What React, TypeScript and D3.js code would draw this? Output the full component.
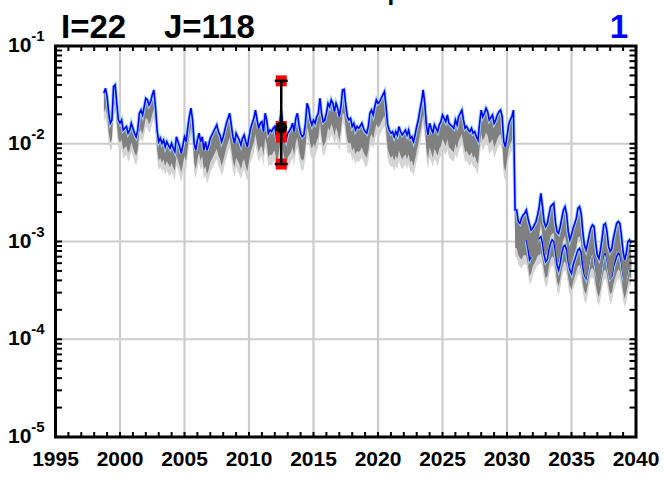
import React from "react";
import * as d3 from "d3";

// time grid of the series
const START_YEAR = 1998.75;
const STEP = 0.125;
const B_START = 255; // index where the second (lower) run begins

// main run (blue), 1998.75 .. 2039.6
const blueA = [
  .0328, .0369, .0303, .0205, .0162, .0175, .0384, .0400, .0259, .0175,
  .0162, .0175, .0138, .0144, .0150, .0128, .0138, .0162, .0144, .0128,
  .0118, .0138, .0205, .0221, .0197, .0239, .0292, .0281, .0249, .0269,
  .0316, .0355, .0239, .0138, .0105, .0114, .0101, .0109, .0093, .0105,
  .0097, .0090, .0101, .0090, .0083, .0118, .0105, .0093, .0080, .0097,
  .0118, .0105, .0144, .0189, .0231, .0175, .0101, .0086, .0109, .0128,
  .0105, .0118, .0086,
  .0105, .0086, .0097, .0114, .0123, .0133, .0144, .0156, .0133, .0123,
  .0105, .0118, .0138, .0162, .0182, .0205, .0156, .0118, .0101, .0128,
  .0118, .0109, .0097, .0114, .0123, .0105, .0093, .0118, .0144, .0162,
  .0182, .0221, .0175, .0144, .0162, .0168, .0133, .0205, .0175, .0128,
  .0138, .0133, .0144, .0150, .0118, .0128, .0162, .0221, .0150, .0123,
  .0109, .0128, .0135, .0144, .0162, .0133, .0182, .0205, .0156, .0128,
  .0118, .0123, .0162, .0259, .0231, .0175, .0156, .0175, .0162, .0189, .0205,
  .0292, .0205, .0168, .0175, .0205, .0259, .0239, .0281, .0259, .0213,
  .0259, .0231, .0189, .0239, .0355, .0360, .0249, .0189, .0175, .0182,
  .0150, .0162, .0138, .0150, .0144, .0152, .0162, .0144, .0133, .0128,
  .0150, .0205, .0221, .0197, .0239, .0281, .0259, .0269, .0292, .0316,
  .0341, .0239, .0156, .0138, .0128, .0133, .0118, .0133, .0123, .0150,
  .0133, .0123, .0130, .0138, .0123, .0138, .0114, .0118, .0105, .0123,
  .0150, .0175, .0221, .0269, .0355, .0259, .0156, .0123,
  .0162, .0144, .0128, .0156, .0144, .0133, .0156, .0168, .0197, .0182,
  .0168, .0197, .0162, .0156, .0150, .0144, .0175, .0156, .0189, .0205,
  .0221, .0175, .0144, .0150, .0138, .0133, .0144, .0128, .0133, .0118,
  .0109, .0162, .0221, .0189, .0205, .0231, .0213, .0175, .0185, .0197,
  .0162, .0175, .0197, .0213, .0221, .0189, .0105, .0093, .0118, .0156,
  .0175, .0189, .0221,
  2.10e-3, 2.10e-3, 1.60e-3, 1.53e-3, 1.73e-3, 1.87e-3, 1.94e-3, 2.10e-3, 1.73e-3, 1.48e-3,
  1.31e-3, 1.37e-3, 1.48e-3, 1.60e-3, 1.87e-3, 2.27e-3, 3.11e-3, 2.27e-3, 1.60e-3, 1.42e-3,
  1.53e-3, 1.87e-3, 2.27e-3, 2.37e-3, 2.46e-3, 1.60e-3, 1.26e-3, 1.21e-3, 1.42e-3, 1.73e-3,
  2.10e-3, 2.27e-3, 1.87e-3, 1.26e-3, 1.04e-3, 1.17e-3, 1.37e-3, 1.53e-3, 1.73e-3, 2.18e-3,
  2.27e-3, 1.94e-3, 1.26e-3, 0.92e-3, 0.82e-3, 0.96e-3, 1.17e-3, 1.37e-3, 1.48e-3, 1.42e-3,
  0.96e-3, 0.73e-3, 0.67e-3, 0.82e-3, 1.08e-3, 1.48e-3, 1.53e-3, 1.26e-3, 0.885e-3, 0.79e-3,
  0.85e-3, 1.08e-3, 1.29e-3, 1.53e-3, 1.60e-3, 1.53e-3, 1.12e-3, 0.79e-3, 0.65e-3, 0.76e-3,
  1.00e-3, 1.04e-3, 0.96e-3,
];

// lower edge of the dark grey spread under the main run
const grayLowA = [
  .0208, .0234, .0192, .0130, .0103, .0111, .0243, .0253, .0164, .0111,
  .0103, .0111, .0087, .0092, .0095, .0081, .0087, .0103, .0092, .0081,
  .0075, .0087, .0130, .0140, .0125, .0151, .0185, .0178, .0158, .0171,
  .0201, .0225, .0151, .0087, .0067, .0072, .0064, .0069, .0059, .0067,
  .0062, .0057, .0064, .0057, .0053, .0075, .0067, .0059, .0051, .0062,
  .0075, .0067, .0092, .0120, .0146, .0111, .0064, .0055, .0069, .0081,
  .0067, .0075, .0055,
  .0059, .0049, .0055, .0065, .0070, .0076, .0082, .0089, .0076, .0070,
  .0059, .0067, .0078, .0092, .0103, .0116, .0089, .0067, .0058, .0072,
  .0067, .0062, .0055, .0065, .0070, .0059, .0052, .0067, .0082, .0092,
  .0103, .0126, .0100, .0082, .0092, .0095, .0076, .0116, .0100, .0072,
  .0078, .0076, .0082, .0085, .0067, .0072, .0092, .0126, .0085, .0070,
  .0062, .0072, .0077, .0082, .0092, .0076, .0103, .0116, .0089, .0072,
  .0067, .0070, .0092, .0147, .0131, .0100, .0089, .0100, .0092, .0108, .0116,
  .0166, .0116, .0095, .0100, .0116, .0147, .0136, .0159, .0147, .0121,
  .0147, .0131, .0108, .0136, .0201, .0205, .0141, .0108, .0100, .0103,
  .0085, .0092, .0078, .0085, .0082, .0086, .0092, .0082, .0076, .0072,
  .0085, .0116, .0126, .0112, .0136, .0159, .0147, .0153, .0166, .0180,
  .0194, .0136, .0089, .0078, .0072, .0076, .0067, .0076, .0070, .0085,
  .0076, .0070, .0074, .0078, .0070, .0078, .0065, .0067, .0059, .0070,
  .0085, .0100, .0126, .0153, .0201, .0147, .0089, .0070,
  .0092, .0082, .0072, .0089, .0082, .0076, .0089, .0095, .0112, .0103,
  .0095, .0112, .0092, .0089, .0085, .0082, .0100, .0089, .0108, .0116,
  .0126, .0100, .0082, .0085, .0078, .0076, .0082, .0072, .0076, .0067,
  .0062, .0092, .0126, .0108, .0116, .0131, .0121, .0100, .0105, .0112,
  .0092, .0100, .0112, .0121, .0126, .0108, .0059, .0052, .0067, .0089,
  .0100, .0108, .0126,
  1.05e-3, 1.05e-3, 0.80e-3, 0.77e-3, 0.87e-3, 0.94e-3, 0.97e-3, 1.05e-3, 0.87e-3, 0.74e-3,
  0.66e-3, 0.69e-3, 0.74e-3, 0.80e-3, 0.94e-3, 1.14e-3, 1.56e-3, 1.14e-3, 0.80e-3, 0.71e-3,
  0.77e-3, 0.94e-3, 1.14e-3, 1.19e-3, 1.23e-3, 0.80e-3, 0.63e-3, 0.61e-3, 0.71e-3, 0.87e-3,
  1.05e-3, 1.14e-3, 0.94e-3, 0.63e-3, 0.52e-3, 0.59e-3, 0.69e-3, 0.77e-3, 0.87e-3, 1.09e-3,
  1.14e-3, 0.97e-3, 0.63e-3, 0.46e-3, 0.41e-3, 0.48e-3, 0.59e-3, 0.69e-3, 0.74e-3, 0.71e-3,
  0.48e-3, 0.37e-3, 0.34e-3, 0.41e-3, 0.54e-3, 0.74e-3, 0.77e-3, 0.63e-3, 0.44e-3, 0.40e-3,
  0.43e-3, 0.54e-3, 0.65e-3, 0.77e-3, 0.80e-3, 0.77e-3, 0.56e-3, 0.40e-3, 0.33e-3, 0.38e-3,
  0.50e-3, 0.52e-3, 0.48e-3,
];

// lower edge of the light grey spread under the main run
const lightLowA = [
  .0167, .0188, .0155, .0105, .0083, .0090, .0196, .0204, .0132, .0090,
  .0083, .0090, .0070, .0074, .0077, .0065, .0070, .0083, .0074, .0065,
  .0060, .0070, .0105, .0113, .0100, .0122, .0149, .0143, .0127, .0137,
  .0161, .0181, .0122, .0070, .0054, .0058, .0052, .0055, .0048, .0054,
  .0049, .0046, .0052, .0046, .0042, .0060, .0054, .0048, .0040, .0049,
  .0060, .0054, .0074, .0097, .0118, .0090, .0052, .0044, .0055, .0065,
  .0054, .0060, .0044,
  .0047, .0039, .0043, .0051, .0055, .0059, .0065, .0070, .0059, .0055,
  .0047, .0052, .0062, .0072, .0082, .0092, .0070, .0052, .0046, .0058,
  .0052, .0049, .0043, .0051, .0055, .0047, .0041, .0052, .0065, .0072,
  .0082, .0099, .0078, .0065, .0072, .0075, .0059, .0092, .0078, .0058,
  .0062, .0059, .0065, .0067, .0052, .0058, .0072, .0099, .0067, .0055,
  .0049, .0058, .0060, .0065, .0072, .0059, .0082, .0092, .0070, .0058,
  .0052, .0055, .0072, .0116, .0103, .0078, .0070, .0078, .0072, .0084, .0092,
  .0131, .0092, .0075, .0078, .0092, .0116, .0107, .0126, .0116, .0095,
  .0116, .0103, .0084, .0107, .0159, .0161, .0111, .0084, .0078, .0082,
  .0067, .0072, .0062, .0067, .0065, .0068, .0072, .0065, .0059, .0058,
  .0067, .0092, .0099, .0088, .0107, .0126, .0116, .0120, .0131, .0141,
  .0152, .0107, .0070, .0062, .0058, .0059, .0052, .0059, .0055, .0067,
  .0059, .0055, .0058, .0062, .0055, .0062, .0051, .0052, .0047, .0055,
  .0067, .0078, .0099, .0120, .0159, .0116, .0070, .0055,
  .0072, .0065, .0058, .0070, .0065, .0059, .0070, .0075, .0088, .0082,
  .0075, .0088, .0072, .0070, .0067, .0065, .0078, .0070, .0084, .0092,
  .0099, .0078, .0065, .0067, .0062, .0059, .0065, .0058, .0059, .0052,
  .0049, .0072, .0099, .0084, .0092, .0103, .0095, .0078, .0083, .0088,
  .0072, .0078, .0088, .0095, .0099, .0084, .0047, .0041, .0052, .0070,
  .0078, .0084, .0099,
  0.92e-3, 0.92e-3, 0.70e-3, 0.67e-3, 0.76e-3, 0.82e-3, 0.85e-3, 0.92e-3, 0.76e-3, 0.65e-3,
  0.58e-3, 0.60e-3, 0.65e-3, 0.70e-3, 0.82e-3, 1.00e-3, 1.37e-3, 1.00e-3, 0.70e-3, 0.62e-3,
  0.67e-3, 0.82e-3, 1.00e-3, 1.04e-3, 1.08e-3, 0.70e-3, 0.55e-3, 0.53e-3, 0.62e-3, 0.76e-3,
  0.92e-3, 1.00e-3, 0.82e-3, 0.55e-3, 0.46e-3, 0.51e-3, 0.60e-3, 0.67e-3, 0.76e-3, 0.96e-3,
  1.00e-3, 0.85e-3, 0.55e-3, 0.40e-3, 0.36e-3, 0.42e-3, 0.51e-3, 0.60e-3, 0.65e-3, 0.62e-3,
  0.42e-3, 0.32e-3, 0.29e-3, 0.36e-3, 0.48e-3, 0.65e-3, 0.67e-3, 0.55e-3, 0.39e-3, 0.35e-3,
  0.37e-3, 0.48e-3, 0.57e-3, 0.67e-3, 0.70e-3, 0.67e-3, 0.49e-3, 0.35e-3, 0.29e-3, 0.33e-3,
  0.44e-3, 0.46e-3, 0.42e-3,
];

// second run after the drop (2030.6 .. 2039.6)
const blueB = [
  12.6e-4, 12.6e-4, 10.8e-4, 10.0e-4, 9.6e-4, 10.4e-4, 10.8e-4, 10.4e-4, 8.5e-4, 6.5e-4,
  7.0e-4, 8.2e-4, 8.85e-4, 9.6e-4, 10.4e-4, 10.8e-4, 11.2e-4, 9.6e-4, 7.3e-4, 6.2e-4,
  6.5e-4, 8.2e-4, 9.6e-4, 10.4e-4, 10.0e-4, 7.9e-4, 5.75e-4, 5.1e-4, 6.0e-4, 7.6e-4,
  8.85e-4, 9.2e-4, 8.2e-4, 6.2e-4, 5.1e-4, 4.7e-4, 5.75e-4, 6.5e-4, 7.3e-4, 8.2e-4,
  8.5e-4, 7.6e-4, 5.5e-4, 4.55e-4, 4.2e-4, 5.1e-4, 6.5e-4, 7.6e-4, 7.9e-4, 7.3e-4,
  5.5e-4, 4.4e-4, 4.0e-4, 4.7e-4, 6.2e-4, 7.3e-4, 7.6e-4, 6.7e-4, 5.1e-4, 4.2e-4,
  4.4e-4, 5.5e-4, 6.2e-4, 7.0e-4, 7.6e-4, 7.3e-4, 6.0e-4, 4.55e-4, 3.85e-4, 4.4e-4,
  5.5e-4, 6.5e-4, 6.2e-4,
];
const grayLowB = [
  8.6e-4, 8.6e-4, 7.3e-4, 6.8e-4, 6.5e-4, 7.1e-4, 7.3e-4, 7.1e-4, 5.8e-4, 4.4e-4,
  4.8e-4, 5.6e-4, 6.0e-4, 6.5e-4, 7.1e-4, 7.3e-4, 7.6e-4, 6.5e-4, 5.0e-4, 4.2e-4,
  4.4e-4, 5.6e-4, 6.5e-4, 7.1e-4, 6.8e-4, 5.4e-4, 3.9e-4, 3.5e-4, 4.1e-4, 5.2e-4,
  6.0e-4, 6.3e-4, 5.6e-4, 4.2e-4, 3.5e-4, 3.2e-4, 3.9e-4, 4.4e-4, 5.0e-4, 5.6e-4,
  5.8e-4, 5.2e-4, 3.7e-4, 3.1e-4, 2.9e-4, 3.5e-4, 4.4e-4, 5.2e-4, 5.4e-4, 5.0e-4,
  3.7e-4, 3.0e-4, 2.7e-4, 3.2e-4, 4.2e-4, 5.0e-4, 5.2e-4, 4.6e-4, 3.5e-4, 2.9e-4,
  3.0e-4, 3.7e-4, 4.2e-4, 4.8e-4, 5.2e-4, 5.0e-4, 4.1e-4, 3.1e-4, 2.6e-4, 3.0e-4,
  3.7e-4, 4.4e-4, 4.2e-4,
];
const lightLowB = [
  6.9e-4, 6.9e-4, 5.9e-4, 5.5e-4, 5.3e-4, 5.7e-4, 5.9e-4, 5.7e-4, 4.7e-4, 3.6e-4,
  3.9e-4, 4.5e-4, 4.9e-4, 5.3e-4, 5.7e-4, 5.9e-4, 6.2e-4, 5.3e-4, 4.0e-4, 3.4e-4,
  3.6e-4, 4.5e-4, 5.3e-4, 5.7e-4, 5.5e-4, 4.3e-4, 3.2e-4, 2.8e-4, 3.3e-4, 4.2e-4,
  4.9e-4, 5.1e-4, 4.5e-4, 3.4e-4, 2.8e-4, 2.6e-4, 3.2e-4, 3.6e-4, 4.0e-4, 4.5e-4,
  4.7e-4, 4.2e-4, 3.0e-4, 2.5e-4, 2.3e-4, 2.8e-4, 3.6e-4, 4.2e-4, 4.3e-4, 4.0e-4,
  3.0e-4, 2.4e-4, 2.2e-4, 2.6e-4, 3.4e-4, 4.0e-4, 4.2e-4, 3.7e-4, 2.8e-4, 2.3e-4,
  2.4e-4, 3.0e-4, 3.4e-4, 3.9e-4, 4.2e-4, 4.0e-4, 3.3e-4, 2.5e-4, 2.1e-4, 2.4e-4,
  3.0e-4, 3.6e-4, 3.4e-4,
];

// observation with its range
const obsYear = 2012.5;
const obsMean = 0.0147;
const obsLow = 0.0062;
const obsHigh = 0.0440;
const obsMarks = [0.0440, 0.0150, 0.0117, 0.0062];

// axes
const xLabels = [1995, 2000, 2005, 2010, 2015, 2020, 2025, 2030, 2035, 2040];
const xGrid = [2000, 2005, 2010, 2015, 2020, 2025, 2030, 2035];
const yDecades = [1e-1, 1e-2, 1e-3, 1e-4, 1e-5];
const yExponents = ["-1", "-2", "-3", "-4", "-5"];
const yGrid = [1e-2, 1e-3, 1e-4];

const FONT = "'Liberation Sans', Arial, Helvetica, sans-serif";

export default function App() {
  const W = 664;
  const H = 477;
  const L = 55.5, R = 636, T = 46, B = 437;
  const x = d3.scaleLinear().domain([1995, 2040]).range([L, R]);
  const y = d3.scaleLog().domain([1e-5, 1e-1]).range([B, T]);
  const yr = (i: number) => START_YEAR + i * STEP;

  const line = (off: number) =>
    d3.line<number>().x((_, i) => x(yr(i + off))).y((v) => y(v));
  const band = (off: number, low: number[]) =>
    d3
      .area<number>()
      .x((_, i) => x(yr(i + off)))
      .y0((_, i) => y(low[i]))
      .y1((v) => y(v));

  const minorX = d3.range(1995, 2041, 1);
  const minorY: number[] = [];
  [-5, -4, -3, -2].forEach((e) => {
    for (let k = 1; k <= 9; k++) minorY.push(k * Math.pow(10, e));
  });
  minorY.push(1e-1);

  const capW = 13;
  const sq = 11;

  return (
    <svg
      width={W}
      height={H}
      style={{ position: "absolute", left: 0, top: 0, background: "#fff" }}
      fontFamily={FONT}
    >
      <rect x={0} y={0} width={W} height={H} fill="#fff" />
      {/* title, mostly above the frame */}
      <text x={387.5} y={0} fontSize={24} fontWeight="bold" fill="#000">
        p
      </text>
      <text x={61} y={38} fontSize={33} fontWeight="bold" fill="#000">
        I=22
      </text>
      <text x={164} y={38} fontSize={33} fontWeight="bold" fill="#000">
        J=118
      </text>
      <text x={628} y={38} fontSize={33} fontWeight="bold" fill="#0000ff" textAnchor="end">
        1
      </text>

      {/* grid */}
      {xGrid.map((g) => (
        <line key={"gx" + g} x1={x(g)} x2={x(g)} y1={T} y2={B} stroke="#cccccc" strokeWidth={2.2} />
      ))}
      {yGrid.map((g) => (
        <line key={"gy" + g} x1={L} x2={R} y1={y(g)} y2={y(g)} stroke="#cccccc" strokeWidth={2.2} />
      ))}

      <defs>
        <clipPath id="plot">
          <rect x={L} y={T} width={R - L} height={B - T} />
        </clipPath>
      </defs>
      <g clipPath="url(#plot)">
        <path d={band(0, lightLowA)(blueA) || ""} fill="#d4d4d4" />
        <path d={band(B_START, lightLowB)(blueB) || ""} fill="#d4d4d4" />
        <path d={band(B_START, grayLowB)(blueB) || ""} fill="#808080" />
        <path d={line(B_START)(blueB) || ""} fill="none" stroke="#9fd3f7" strokeWidth={3.5} />
        <path d={line(B_START)(blueB) || ""} fill="none" stroke="#0000ff" strokeWidth={1.5} />
        <path d={band(0, grayLowA)(blueA) || ""} fill="#808080" />
        <path d={line(0)(blueA) || ""} fill="none" stroke="#9fd3f7" strokeWidth={3.5} />
        <path d={line(0)(blueA) || ""} fill="none" stroke="#0000ff" strokeWidth={1.6} />
      </g>

      {/* observation */}
      {obsMarks.map((v, i) => (
        <rect key={"r" + i} x={x(obsYear) - sq / 2} y={y(v) - sq / 2} width={sq} height={sq} fill="#ff0000" />
      ))}
      <line x1={x(obsYear)} x2={x(obsYear)} y1={y(obsHigh)} y2={y(obsLow)} stroke="#000" strokeWidth={2.5} />
      <line x1={x(obsYear) - capW / 2} x2={x(obsYear) + capW / 2} y1={y(obsHigh)} y2={y(obsHigh)} stroke="#000" strokeWidth={2.5} />
      <line x1={x(obsYear) - capW / 2} x2={x(obsYear) + capW / 2} y1={y(obsLow)} y2={y(obsLow)} stroke="#000" strokeWidth={2.5} />
      <circle cx={x(obsYear)} cy={y(obsMean)} r={6} fill="#000" />

      {/* ticks */}
      {minorX.map((v) => (
        <g key={"tx" + v}>
          <line x1={x(v)} x2={x(v)} y1={B} y2={B - 5} stroke="#000" strokeWidth={2} />
          <line x1={x(v)} x2={x(v)} y1={T} y2={T + 5} stroke="#000" strokeWidth={2} />
        </g>
      ))}
      {minorY.map((v, i) => (
        <g key={"ty" + i}>
          <line x1={L} x2={L + 6.5} y1={y(v)} y2={y(v)} stroke="#000" strokeWidth={2} />
          <line x1={R} x2={R - 6.5} y1={y(v)} y2={y(v)} stroke="#000" strokeWidth={2} />
        </g>
      ))}
      <rect x={L} y={T} width={R - L} height={B - T} fill="none" stroke="#000" strokeWidth={3} />

      {/* labels */}
      {xLabels.map((v) => (
        <text key={"lx" + v} x={x(v)} y={466} fontSize={21} fontWeight="bold" textAnchor="middle" fill="#000">
          {v}
        </text>
      ))}
      {yDecades.map((v, i) => (
        <text key={"ly" + i} x={8} y={y(v) + 6} fontSize={21} fontWeight="bold" fill="#000">
          10
          <tspan dy={-11} fontSize={15}>
            {yExponents[i]}
          </tspan>
        </text>
      ))}
    </svg>
  );
}
